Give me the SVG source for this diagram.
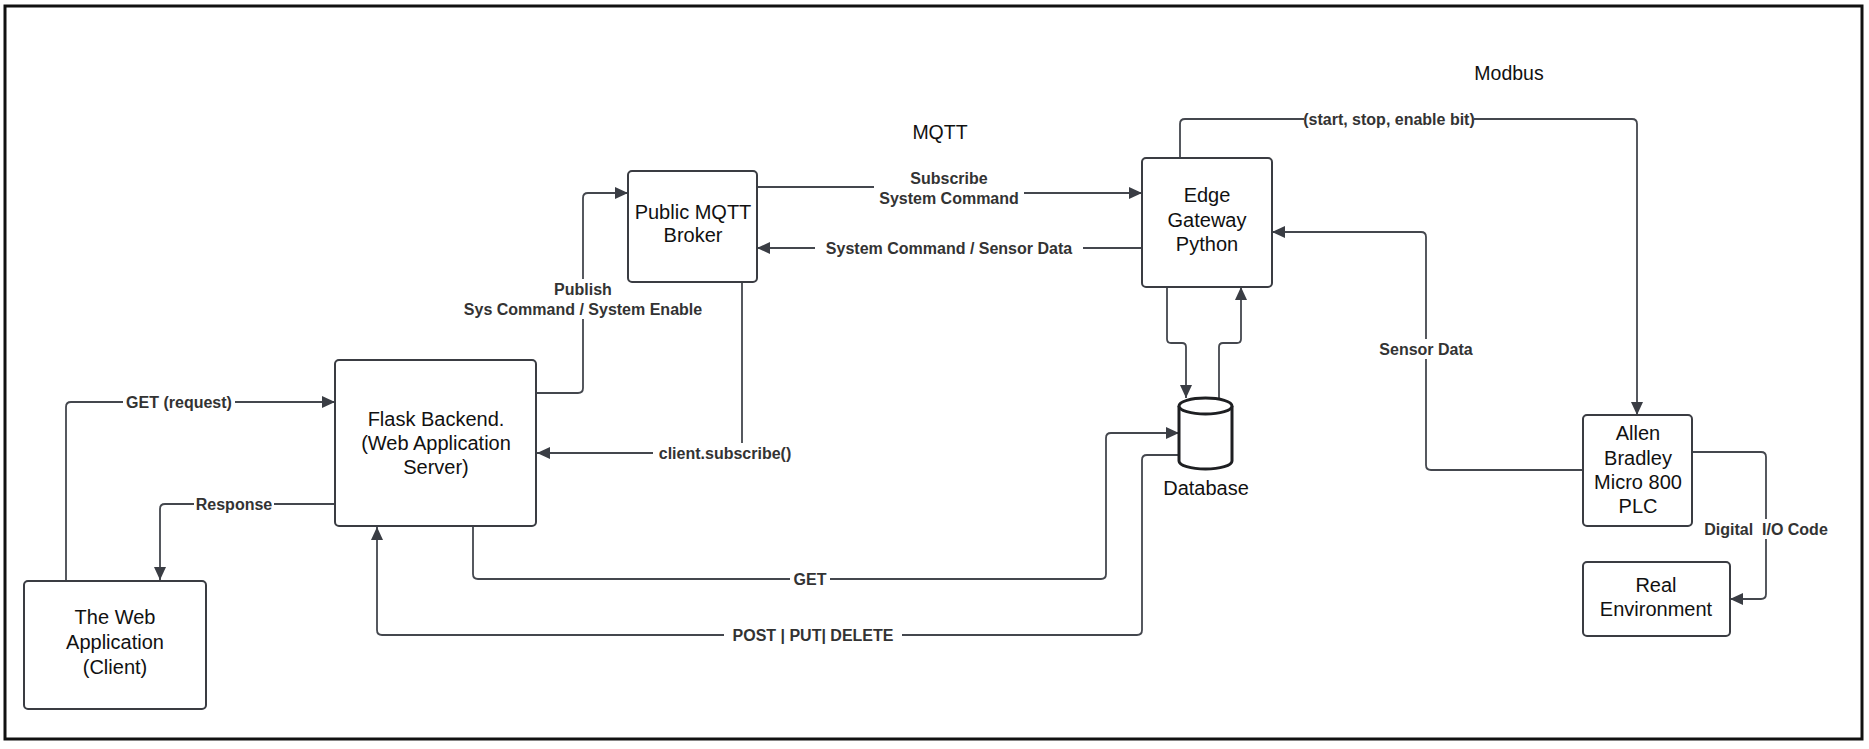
<svg xmlns="http://www.w3.org/2000/svg" width="1869" height="749" viewBox="0 0 1869 749">
<style>
.node rect{fill:#fff;stroke:#3a3c42;stroke-width:2}
.nt{font-family:"Liberation Sans",Arial,sans-serif;font-size:20px;fill:#111;text-anchor:middle}
.title{font-family:"Liberation Sans",Arial,sans-serif;font-size:19.5px;fill:#111;text-anchor:middle}
.edge{fill:none;stroke:#44474e;stroke-width:1.8}
.lbl{font-family:"Liberation Sans",Arial,sans-serif;font-size:16px;font-weight:bold;fill:#333;text-anchor:middle;white-space:pre}
.bg{fill:#fff}
</style>
<defs>
<marker id="arr" markerUnits="userSpaceOnUse" markerWidth="14" markerHeight="12" refX="13" refY="6" orient="auto">
<path d="M0,0 L13,6 L0,12 Z" fill="#3a3d44"/>
</marker>
</defs>
<rect x="0" y="0" width="1869" height="749" fill="#fff"/>
<rect x="5" y="6" width="1857" height="733" fill="none" stroke="#111" stroke-width="3"/>

<text class="title" x="940" y="139">MQTT</text>
<text class="title" x="1509" y="80">Modbus</text>

<g id="connectors">
<path class="edge" marker-end="url(#arr)" d="M66,580 V407 Q66,402 71,402 H335"/>
<path class="edge" marker-end="url(#arr)" d="M335,504 H165 Q160,504 160,509 V580"/>
<path class="edge" marker-end="url(#arr)" d="M537,393 H578 Q583,393 583,388 V198 Q583,193 588,193 H628"/>
<path class="edge" marker-end="url(#arr)" d="M742,282 V448 Q742,453 737,453 H537"/>
<path class="edge" marker-end="url(#arr)" d="M757,187 H945 V193 H1142"/>
<path class="edge" marker-end="url(#arr)" d="M1142,248 H757"/>
<path class="edge" marker-end="url(#arr)" d="M1180,157 V124 Q1180,119 1185,119 H1632 Q1637,119 1637,124 V415"/>
<path class="edge" marker-end="url(#arr)" d="M1583,470 H1431 Q1426,470 1426,465 V237 Q1426,232 1421,232 H1272"/>
<path class="edge" marker-end="url(#arr)" d="M1167,287 V339 Q1167,343 1171,343 H1182 Q1186,343 1186,347 V398"/>
<path class="edge" marker-end="url(#arr)" d="M1219,398 V347 Q1219,343 1223,343 H1237 Q1241,343 1241,339 V287"/>
<path class="edge" marker-end="url(#arr)" d="M473,527 V574 Q473,579 478,579 H1101 Q1106,579 1106,574 V438 Q1106,433 1111,433 H1179"/>
<path class="edge" marker-end="url(#arr)" d="M1179,455 H1147 Q1142,455 1142,460 V630 Q1142,635 1137,635 H382 Q377,635 377,630 V527"/>
<path class="edge" marker-end="url(#arr)" d="M1692,452 H1761 Q1766,452 1766,457 V594 Q1766,599 1761,599 H1730"/>

<rect class="bg" x="123" y="392" width="112" height="20"/>
<text class="lbl" x="179" y="408">GET (request)</text>
<rect class="bg" x="194" y="494" width="80" height="20"/>
<text class="lbl" x="234" y="510">Response</text>
<rect class="bg" x="455" y="279" width="256" height="40"/>
<text class="lbl" x="583" y="295">Publish</text>
<text class="lbl" x="583" y="315">Sys Command / System Enable</text>
<rect class="bg" x="653" y="443" width="144" height="20"/>
<text class="lbl" x="725" y="459">client.subscribe()</text>
<rect class="bg" x="874" y="168" width="150" height="39"/>
<text class="lbl" x="949" y="184">Subscribe</text>
<text class="lbl" x="949" y="204">System Command</text>
<rect class="bg" x="815" y="238" width="268" height="20"/>
<text class="lbl" x="949" y="254">System Command / Sensor Data</text>
<rect class="bg" x="1304" y="109" width="170" height="20"/>
<text class="lbl" x="1389" y="125">(start, stop, enable bit)</text>
<rect class="bg" x="1377" y="339" width="98" height="20"/>
<text class="lbl" x="1426" y="355">Sensor Data</text>
<rect class="bg" x="790" y="569" width="40" height="20"/>
<text class="lbl" x="810" y="585">GET</text>
<rect class="bg" x="724" y="625" width="178" height="20"/>
<text class="lbl" x="813" y="641">POST | PUT| DELETE</text>
<rect class="bg" x="1699" y="519" width="134" height="20"/>
<text class="lbl" x="1766" y="535">Digital  I/O Code</text>
</g>

<g id="web-app" class="node">
<rect x="24" y="581" width="182" height="128" rx="4"/>
<text class="nt" x="115" y="624">The Web</text>
<text class="nt" x="115" y="649">Application</text>
<text class="nt" x="115" y="674">(Client)</text>
</g>
<g id="flask" class="node">
<rect x="335" y="360" width="201" height="166" rx="4"/>
<text class="nt" x="436" y="426">Flask Backend.</text>
<text class="nt" x="436" y="450">(Web Application</text>
<text class="nt" x="436" y="474">Server)</text>
</g>
<g id="broker" class="node">
<rect x="628" y="171" width="129" height="111" rx="4"/>
<text class="nt" x="693" y="219">Public MQTT</text>
<text class="nt" x="693" y="242">Broker</text>
</g>
<g id="edge-gateway" class="node">
<rect x="1142" y="158" width="130" height="129" rx="4"/>
<text class="nt" x="1207" y="202">Edge</text>
<text class="nt" x="1207" y="227">Gateway</text>
<text class="nt" x="1207" y="251">Python</text>
</g>
<g id="database">
<path d="M1179,406 V461 A26.5,8 0 0 0 1232,461 V406" fill="#fff" stroke="#1e1f22" stroke-width="3"/>
<ellipse cx="1205.5" cy="406" rx="26.5" ry="8" fill="#fff" stroke="#1e1f22" stroke-width="3"/>
<text class="nt" x="1206" y="495">Database</text>
</g>
<g id="plc" class="node">
<rect x="1583" y="415" width="109" height="111" rx="4"/>
<text class="nt" x="1638" y="440">Allen</text>
<text class="nt" x="1638" y="465">Bradley</text>
<text class="nt" x="1638" y="489">Micro 800</text>
<text class="nt" x="1638" y="513">PLC</text>
</g>
<g id="real-env" class="node">
<rect x="1583" y="562" width="147" height="74" rx="4"/>
<text class="nt" x="1656" y="592">Real</text>
<text class="nt" x="1656" y="616">Environment</text>
</g>
</svg>
